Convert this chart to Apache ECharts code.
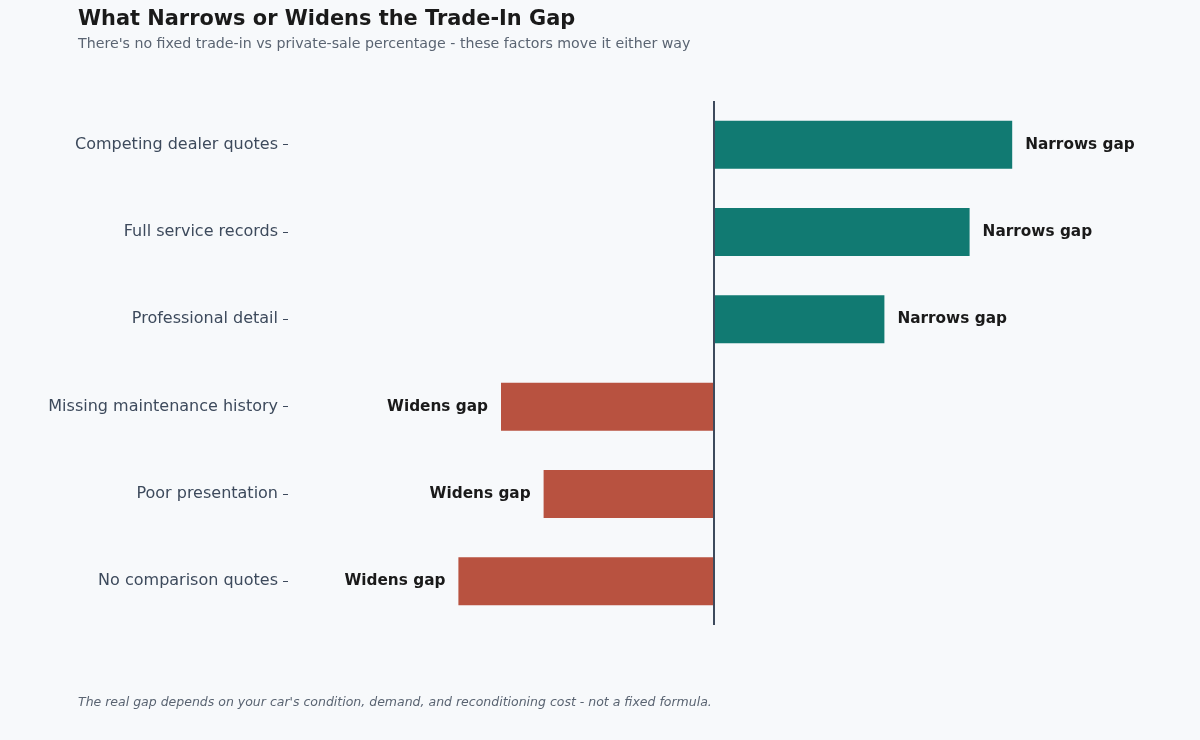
<!DOCTYPE html>
<html><head><meta charset="utf-8">
<script src="https://cdn.jsdelivr.net/npm/echarts@6/dist/echarts.min.js"></script>
<style>html,body{margin:0;padding:0;background:#f7f9fb;}#c{width:1200px;height:740px;}</style>
</head><body><div id="c"></div>
<script>
const categories = ["Competing dealer quotes","Full service records","Professional detail","Missing maintenance history","Poor presentation","No comparison quotes"];
const values = [7, 6, 4, -5, -4, -6];
const labels = ["Narrows gap","Narrows gap","Narrows gap","Widens gap","Widens gap","Widens gap"];
const FONT = "DejaVu Sans";
const chart = echarts.init(document.getElementById('c'));
chart.setOption({
  backgroundColor: '#f7f9fb',
  animation: false,
  textStyle: {fontFamily: FONT},
  title: [
    {text: 'What Narrows or Widens the Trade-In Gap', left: 73, top: 4,
     textStyle: {fontFamily: FONT, fontSize: 20.9, fontWeight: 'bold', color: '#1a1a1a'}},
    {text: "There's no fixed trade-in vs private-sale percentage - these factors move it either way", left: 73, top: 32,
     textStyle: {fontFamily: FONT, fontSize: 14.2, fontWeight: 'normal', color: '#5a6472'}},
    {text: "The real gap depends on your car's condition, demand, and reconditioning cost - not a fixed formula.", left: 73, top: 691,
     textStyle: {fontFamily: FONT, fontSize: 12.5, fontStyle: 'italic', fontWeight: 'normal', color: '#5a6472'}}
  ],
  grid: {left: 288, right: 60, top: 101, bottom: 115},
  xAxis: {type: 'value', min: -10, max: 10, show: false},
  yAxis: {
    type: 'category', data: categories, inverse: true,
    axisLine: {show: false, onZero: false},
    axisTick: {show: true, length: 5, alignWithLabel: true, lineStyle: {color: '#3d4a5c', width: 1}},
    axisLabel: {fontFamily: FONT, fontSize: 16, color: '#3d4a5c', margin: 10},
    splitLine: {show: false}
  },
  series: [{
    type: 'bar', barWidth: '55%',
    data: values.map((v, i) => ({
      value: v,
      itemStyle: {color: v >= 0 ? '#117a72' : '#b85240'},
      label: {show: true, position: v >= 0 ? 'right' : 'left', distance: 13,
        formatter: labels[i], fontFamily: FONT, fontSize: 15.3, fontWeight: 'bold', color: '#1a1a1a'}
    })),
    markLine: {
      silent: true, symbol: 'none', label: {show: false},
      lineStyle: {color: '#3d4a5c', width: 2, type: 'solid'},
      data: [{xAxis: 0}]
    }
  }]
});
</script></body></html>
